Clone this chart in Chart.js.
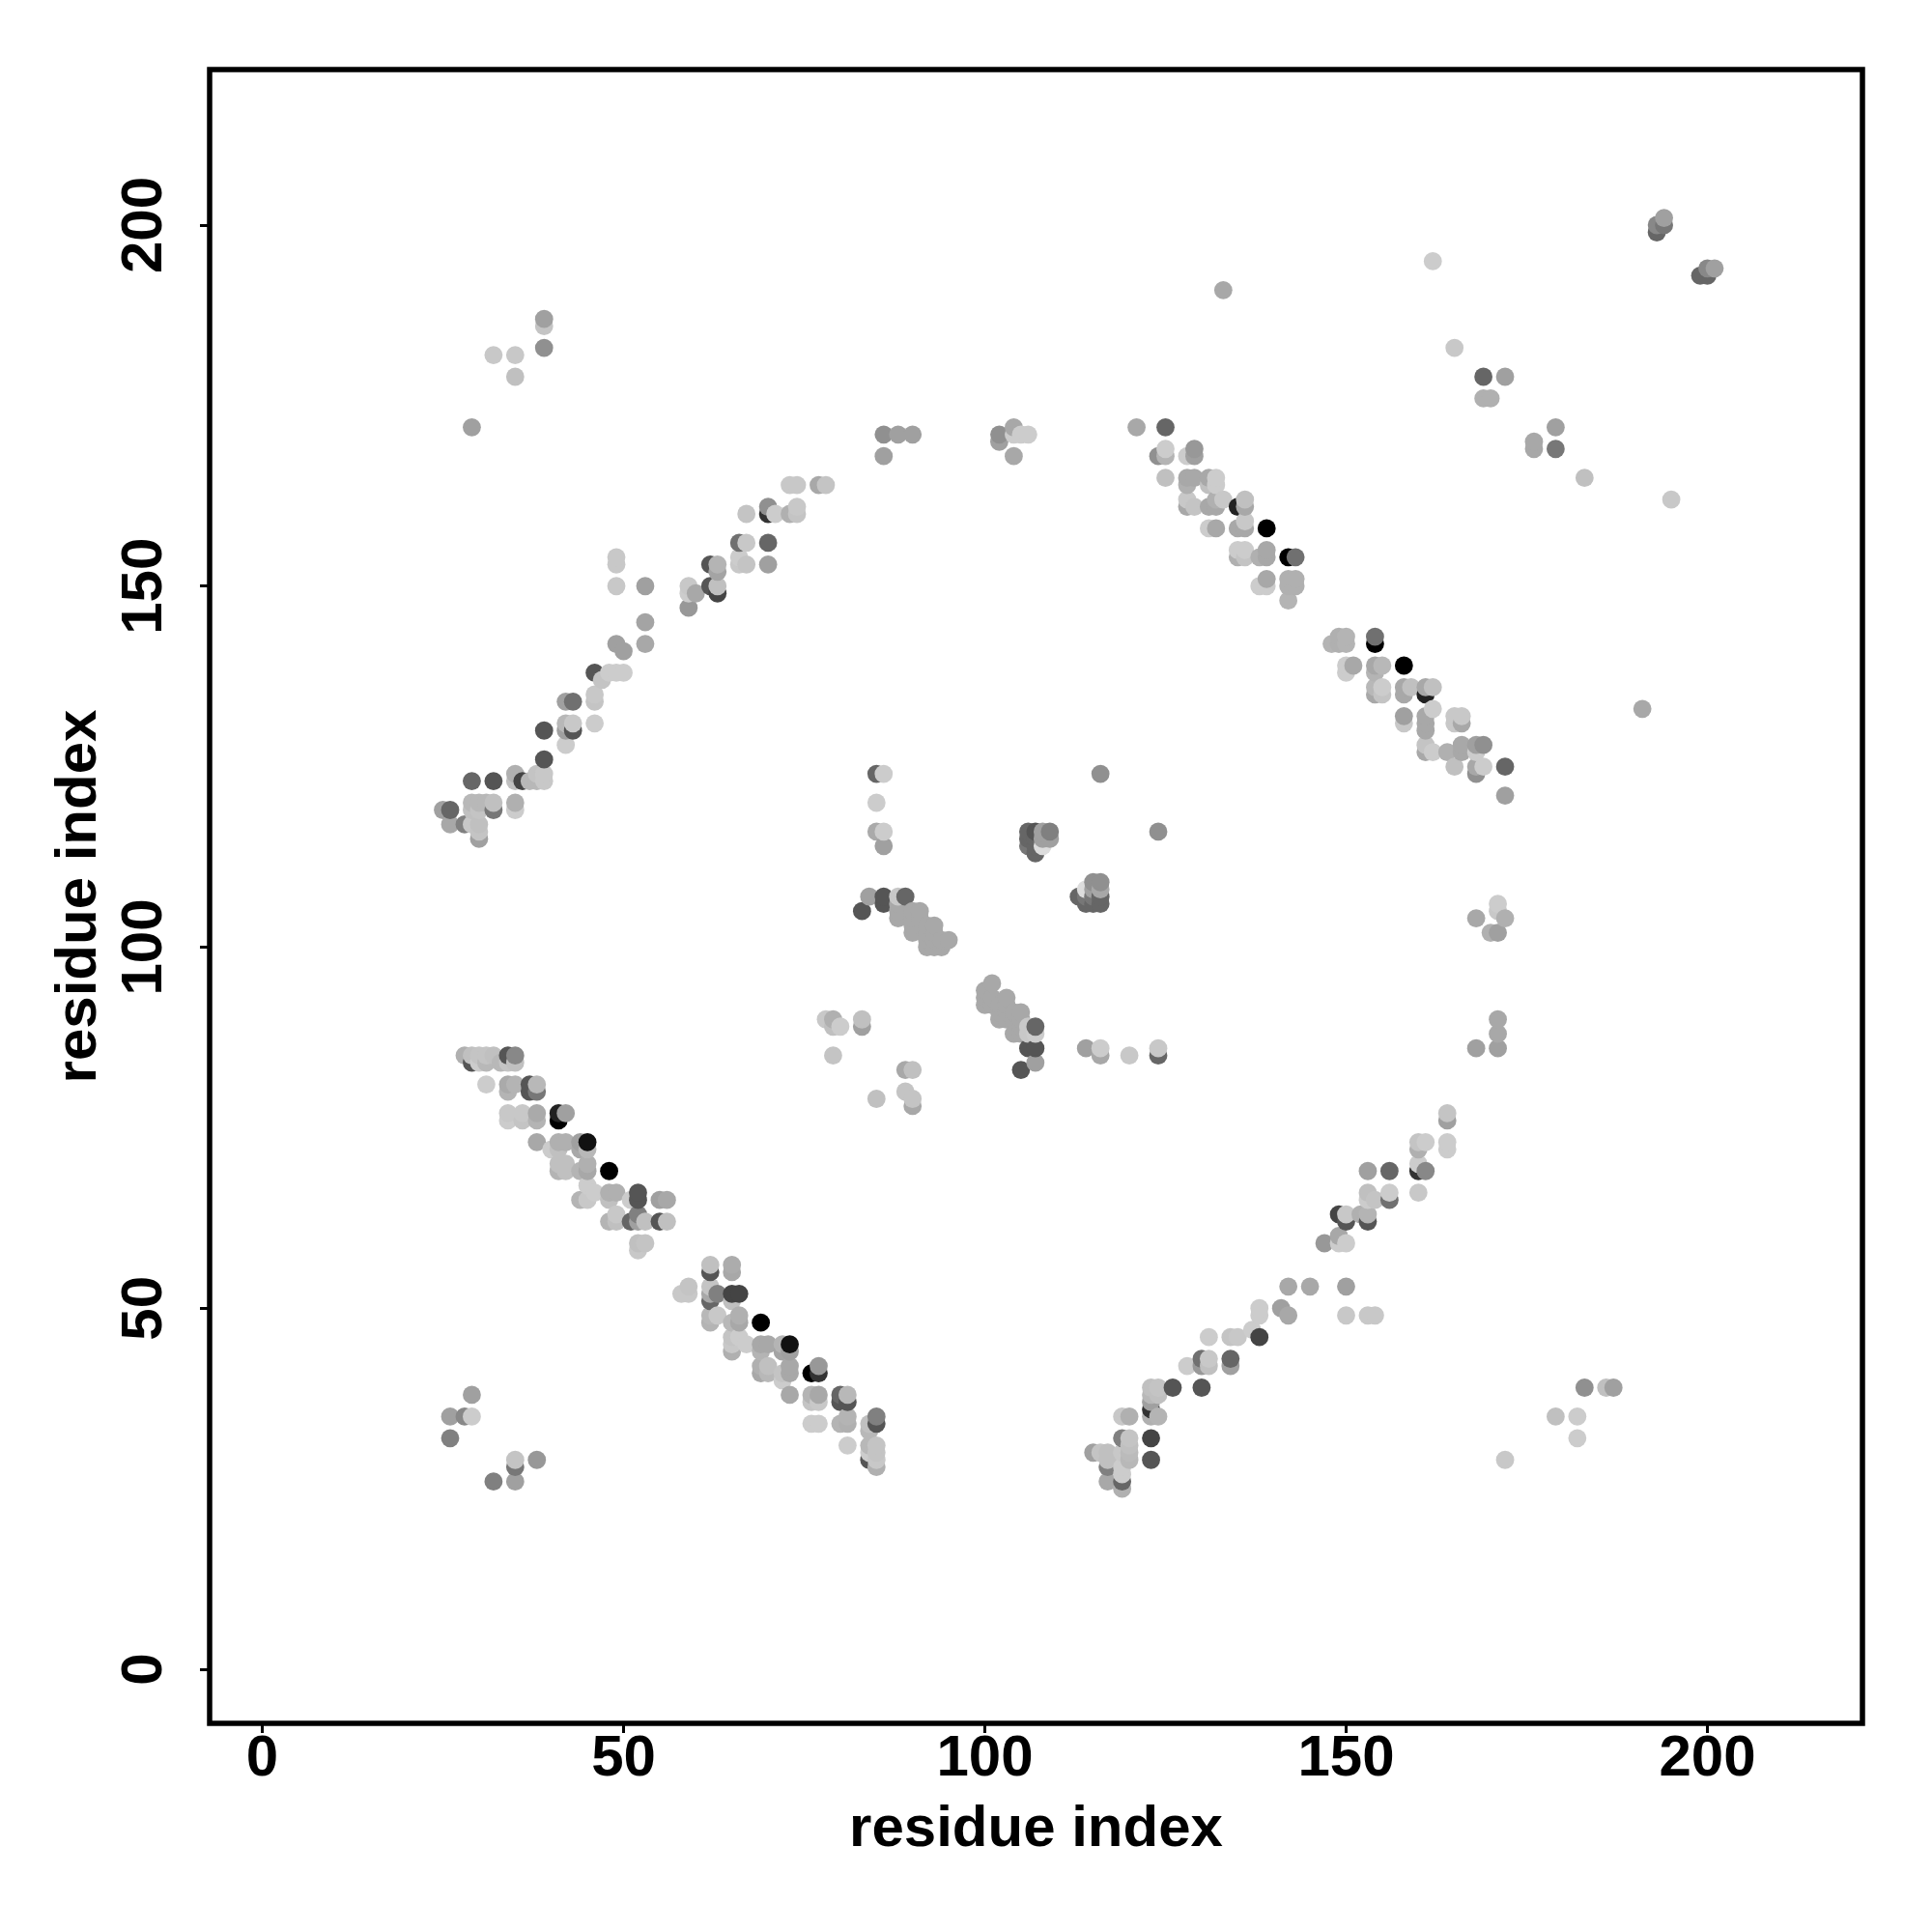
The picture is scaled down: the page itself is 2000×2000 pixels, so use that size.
<!DOCTYPE html>
<html>
<head>
<meta charset="utf-8">
<style>
  html, body { margin: 0; padding: 0; background: #fff; }
  #wrap { width: 2000px; height: 2000px; }
</style>
<script src="https://cdn.jsdelivr.net/npm/chart.js@4"></script>
</head>
<body>
<div id="wrap"><canvas id="contactChart" width="2000" height="2000"></canvas></div>
<script>
const tickLabels = [0, 50, 100, 150, 200];
const axisName = "residue index";

// one row per residue on the x axis
const residueX = [25, 26, 28, 29, 30, 31, 32, 33, 34, 35, 36, 37, 38, 39, 40, 41, 42, 43, 44, 45, 46, 47, 48, 49, 50, 51, 52, 53, 55, 56,
    58, 59, 60, 62, 63, 65, 66, 67, 69, 70, 71, 72, 73, 74, 76, 77, 78, 79, 80, 81, 83, 84, 85, 86, 88, 89, 90, 91, 92, 93, 94, 95,
    100, 101, 102, 103, 104, 105, 106, 107, 108, 109, 113, 114, 115, 116, 117, 119, 120, 121, 123, 124, 125, 126, 128, 129, 130, 131, 132, 133, 134, 135, 136,
    137, 138, 139, 141, 142, 143, 145, 147, 148, 149, 150, 151, 152, 153, 154, 155, 156, 158, 159, 160, 161, 162, 164, 165, 166, 168, 169, 170, 171, 172,
    176, 179, 182, 183, 186, 187, 191, 193, 194, 195, 199, 200, 201];

const partnerY = [
    [119],
    [119, 117, 35, 32],
    [117, 85, 35],
    [172, 123, 120, 119, 117, 85, 84, 38, 35],
    [120, 119, 117, 116, 115, 85, 84],
    [120, 85, 84, 81],
    [182, 123, 120, 119, 85, 26],
    [84],
    [85, 84, 81, 80, 77, 76],
    [182, 179, 124, 123, 120, 119, 85, 84, 81, 29, 28, 26],
    [123, 77, 76],
    [123, 81, 80],
    [124, 123, 81, 80, 77, 76, 73, 29],
    [187, 186, 183, 130, 126, 124, 123],
    [72],
    [77, 76, 73, 72, 70, 69],
    [134, 131, 130, 128, 77, 73, 70, 69],
    [134, 131, 130],
    [73, 72, 69, 65],
    [73, 72, 70, 69, 67, 65],
    [138, 135, 134, 131, 66],
    [137],
    [138, 69, 66, 65, 62],
    [154, 153, 150, 142, 138, 66, 63, 62],
    [141, 138],
    [65, 62],
    [66, 65, 63, 62, 59, 58],
    [150, 145, 142, 62, 59],
    [65, 62],
    [65, 62],
    [52],
    [150, 149, 147, 53, 52],
    [149],
    [153, 150, 56, 55, 53, 52, 51, 49, 48],
    [153, 152, 150, 149, 52, 49],
    [56, 55, 52, 51, 48, 46, 45, 44],
    [156, 154, 153, 52, 49, 48, 46],
    [160, 156, 153, 45],
    [48, 45, 44, 42, 41],
    [161, 160, 156, 153, 45, 42, 41],
    [160],
    [45, 44, 41, 40],
    [164, 160, 45, 44, 42, 41, 38],
    [164, 161, 160],
    [41, 38, 37, 34],
    [164, 42, 41, 38, 37, 34],
    [164, 90],
    [90, 89, 85],
    [89, 38, 37, 34],
    [38, 37, 35, 34, 31],
    [105, 90, 89],
    [107, 34, 33, 31, 30, 29],
    [124, 120, 116, 79, 35, 34, 31, 30, 29, 28],
    [171, 168, 124, 116, 114, 107, 106],
    [171, 107, 106, 105, 104],
    [107, 83, 80],
    [171, 105, 104, 103, 102, 83, 79, 78],
    [105, 104],
    [103, 102, 101, 100],
    [103, 102, 101, 100],
    [101, 100],
    [101],
    [94, 93, 92],
    [95, 93, 92],
    [171, 170, 92, 91, 90],
    [93, 92, 91, 90],
    [172, 171, 168, 91, 90, 88],
    [171, 91, 90, 89, 88, 83],
    [171, 116, 115, 114, 89, 88, 86],
    [116, 115, 114, 113, 89, 88, 86, 84],
    [116, 115, 114],
    [116, 115],
    [107],
    [108, 107, 106, 86],
    [109, 108, 107, 106, 30],
    [124, 109, 108, 107, 106, 86, 85, 30],
    [30, 29, 28, 26],
    [35, 32, 30, 28, 27, 26, 25],
    [85, 35, 32, 31, 30, 29],
    [172],
    [39, 38, 37, 36, 35, 32, 29],
    [168, 116, 86, 85, 39, 38, 35],
    [172, 169, 168, 165],
    [39],
    [168, 165, 164, 162, 161, 42],
    [169, 168, 165, 161],
    [43, 42, 39],
    [165, 164, 161, 158, 46, 43, 42],
    [165, 164, 162, 161, 158],
    [191, 162],
    [46, 43, 42],
    [161, 158, 155, 154, 46],
    [162, 161, 159, 158, 155, 154],
    [47],
    [154, 150, 50, 49, 46],
    [158, 155, 154, 151, 150],
    [50],
    [154, 151, 150, 148, 53, 49],
    [154, 151, 150],
    [53],
    [59],
    [142],
    [143, 142, 63, 60, 59],
    [143, 142, 139, 138, 63, 62, 59, 53, 49],
    [139],
    [63],
    [69, 66, 65, 63, 62, 49],
    [143, 142, 139, 138, 136, 135, 65, 49],
    [139, 136, 135],
    [69, 66, 65],
    [139, 136, 135, 132, 131],
    [136],
    [73, 72, 70, 69, 66],
    [136, 135, 132, 131, 130, 128, 127, 73, 69],
    [195, 136, 133, 127],
    [127, 77, 76, 73, 72],
    [183, 132, 131, 125],
    [132, 131, 128, 127],
    [128, 127, 125, 124, 104, 86],
    [179, 176, 128, 125],
    [176, 102],
    [106, 105, 102, 90, 88, 86],
    [179, 125, 121, 104, 29],
    [170, 169],
    [172, 169, 35],
    [35, 32],
    [165, 39],
    [39],
    [39],
    [133],
    [200, 199],
    [201, 200],
    [162],
    [193],
    [194, 193],
    [194]
];

// grey level of each contact, same rows as partnerY
const shade = [
    [0xa0],
    [0x66, 0xa8, 0xa0, 0x80],
    [0x80, 0xb0, 0x88],
    [0xa0, 0x66, 0xb8, 0xc0, 0xc8, 0xc0, 0x55, 0xa0, 0xcc],
    [0xb8, 0xc4, 0xc0, 0xc4, 0xa0, 0xc4, 0xcc],
    [0xb8, 0xc4, 0xb8, 0xcc],
    [0xc8, 0x55, 0xc0, 0x77, 0xc0, 0x80],
    [0xb8],
    [0x55, 0xc4, 0xaa, 0xb4, 0xc8, 0xcc],
    [0xc8, 0xc0, 0xb0, 0xc0, 0xb0, 0xcc, 0x88, 0xc0, 0xb4, 0xc4, 0x77, 0xa0],
    [0x44, 0xc8, 0xc4],
    [0xb8, 0x55, 0x55],
    [0xc4, 0xb8, 0xb8, 0x77, 0xaa, 0xb4, 0xa8, 0x98],
    [0xa0, 0xc4, 0x90, 0x55, 0x55, 0xc8, 0xc8],
    [0xcc],
    [0x22, 0x00, 0xb0, 0xc0, 0xc0, 0xb4],
    [0xa0, 0xb8, 0xa0, 0xcc, 0xa0, 0xb0, 0xc0, 0xc0],
    [0x70, 0xc8, 0x55],
    [0xa0, 0xa8, 0xb4, 0xb4],
    [0x11, 0xb8, 0xb0, 0xa8, 0xcc, 0xc8],
    [0x55, 0xc8, 0xc4, 0xcc, 0xcc],
    [0xc4],
    [0xcc, 0x00, 0xb0, 0xc0, 0xb4],
    [0xc8, 0xc8, 0xc8, 0xa0, 0xcc, 0xb0, 0xc8, 0xc0],
    [0xa0, 0xcc],
    [0xcc, 0x66],
    [0x55, 0x55, 0x80, 0xa0, 0xc0, 0xc8],
    [0xa0, 0xa4, 0xa8, 0xc0, 0xc4],
    [0xa0, 0x55],
    [0xa8, 0xc0],
    [0xc8],
    [0xc8, 0xcc, 0x98, 0xc4, 0xc8],
    [0xa8],
    [0x55, 0x55, 0xc0, 0x55, 0xc4, 0xa8, 0x66, 0xb8, 0xb4],
    [0xb4, 0xa4, 0xc0, 0x44, 0x80, 0xc8],
    [0xac, 0xa8, 0x44, 0xc0, 0xb8, 0xc4, 0xc8, 0xb0],
    [0x70, 0xcc, 0xc8, 0x44, 0xb0, 0xa8, 0xcc],
    [0xc4, 0xc8, 0xc4, 0xcc],
    [0x00, 0xa8, 0xb4, 0xb0, 0xa8],
    [0x90, 0x33, 0x66, 0xa0, 0xa8, 0xc0, 0xb8],
    [0xcc],
    [0xb4, 0xa4, 0xc4, 0xcc],
    [0xc8, 0xb0, 0x11, 0xa0, 0xa8, 0xa8, 0xa8],
    [0xc8, 0xc8, 0xc4],
    [0x00, 0xb4, 0xc4, 0xcc],
    [0xa8, 0x98, 0x33, 0xa8, 0xc8, 0xcc],
    [0xc4, 0xc8],
    [0xb0, 0xc0, 0xc4],
    [0xcc, 0x66, 0x55, 0xb4],
    [0xb8, 0x55, 0xb4, 0xb0, 0xcc],
    [0x55, 0xc0, 0xa0],
    [0xa0, 0xc0, 0xb8, 0xb8, 0xcc, 0x55],
    [0x66, 0xcc, 0xaa, 0xc0, 0x80, 0x55, 0xc4, 0xc4, 0xc8, 0xb0],
    [0x90, 0xa0, 0xcc, 0xcc, 0xa0, 0x55, 0x55],
    [0xa0, 0xc8, 0xa8, 0xa8, 0xa8],
    [0x66, 0xa8, 0xc4],
    [0xa0, 0xa8, 0xa8, 0xa8, 0xa8, 0xc0, 0xc4, 0xa8],
    [0xa8, 0xa8],
    [0xa8, 0xa8, 0xa8, 0xa8],
    [0xa8, 0xa8, 0xa8, 0xa8],
    [0xa8, 0xa8],
    [0xa8],
    [0xa8, 0xa8, 0xa8],
    [0xa8, 0xa8, 0xa8],
    [0x90, 0xa0, 0xa8, 0xa8, 0xa8],
    [0xa8, 0xa8, 0xa8, 0xa8],
    [0xa8, 0xcc, 0xa8, 0xa8, 0xa8, 0xa8],
    [0xcc, 0xa8, 0xa8, 0xa8, 0xa8, 0x55],
    [0xcc, 0x66, 0x66, 0x77, 0xc8, 0xc8, 0x55],
    [0x55, 0x66, 0x66, 0x66, 0x66, 0xcc, 0x55, 0xa0],
    [0xa0, 0xa0, 0xdd],
    [0x80, 0xa0],
    [0x66],
    [0xdd, 0x77, 0x66, 0xa0],
    [0x90, 0xa0, 0x77, 0x66, 0xa0],
    [0x90, 0x90, 0xa8, 0x66, 0x66, 0xcc, 0xa8, 0xc4],
    [0xc0, 0xc0, 0x80, 0xa8],
    [0xc8, 0x80, 0xc8, 0xcc, 0xcc, 0x66, 0xb0],
    [0xc8, 0xb0, 0xc4, 0xc0, 0xbb, 0xb8],
    [0xa8],
    [0xc0, 0xb8, 0xa0, 0x33, 0xb0, 0x44, 0x55],
    [0x90, 0x90, 0xc8, 0x66, 0xc4, 0xc0, 0xb4],
    [0x66, 0xcc, 0xb4, 0xc0],
    [0x55],
    [0xcc, 0xa8, 0xb0, 0xc8, 0xa8, 0xcc],
    [0x98, 0xa0, 0xa8, 0xc4],
    [0x70, 0x98, 0x55],
    [0xa8, 0xc0, 0xa8, 0xcc, 0xcc, 0xc8, 0xc0],
    [0xcc, 0xcc, 0xb0, 0xa8, 0xa8],
    [0xa8, 0xc8],
    [0xc4, 0x66, 0xa0],
    [0x22, 0xa8, 0xcc, 0xb0, 0xc8],
    [0xc0, 0xa8, 0xc8, 0xa8, 0xcc, 0xc4],
    [0xcc],
    [0xb0, 0xcc, 0xcc, 0xcc, 0x44],
    [0x00, 0xa8, 0xa8, 0xa8, 0xcc],
    [0xa0],
    [0x00, 0xb0, 0xb0, 0xb4, 0xa8, 0xa8],
    [0x70, 0xb0, 0xb0],
    [0xa8],
    [0x98],
    [0xb4],
    [0xb0, 0xb0, 0x44, 0xa8, 0xcc],
    [0xb4, 0xb4, 0xcc, 0xcc, 0xc8, 0x55, 0xcc, 0xa0, 0xc8],
    [0xa8],
    [0xb0],
    [0xa0, 0xc0, 0xcc, 0xb4, 0x55, 0xc8],
    [0x70, 0x00, 0xa8, 0xb4, 0xb8, 0xa8, 0xc4, 0xc8],
    [0xb8, 0xcc, 0xc4],
    [0x66, 0xcc, 0x70],
    [0x00, 0xa8, 0xa8, 0xa0, 0xc8],
    [0xc0],
    [0xc4, 0xb0, 0xcc, 0x33, 0xc8],
    [0xa8, 0x22, 0xa8, 0xa8, 0xa8, 0xc4, 0xa8, 0xcc, 0x88],
    [0xcc, 0xc0, 0xcc, 0xcc],
    [0xb0, 0xc4, 0xa0, 0xcc, 0xcc],
    [0xc8, 0xc8, 0xc8, 0xc0],
    [0xc8, 0xa8, 0xa8, 0xa8],
    [0xa0, 0xcc, 0xa8, 0x90, 0xa8, 0xa0],
    [0x66, 0xb0, 0x90, 0xcc],
    [0xb0, 0xb0],
    [0xcc, 0xc8, 0xa0, 0xa8, 0xa8, 0xa0],
    [0xa0, 0x66, 0xa0, 0xb0, 0xc8],
    [0xa8, 0xa8],
    [0xa0, 0x77, 0xc0],
    [0xcc, 0xcc],
    [0xc0, 0x90],
    [0xc0],
    [0xa0],
    [0xa8],
    [0x88, 0x66],
    [0xa0, 0x77],
    [0xc8],
    [0x66],
    [0x88, 0x66],
    [0xa0]
];

// R plots in index order, so later residues sit on top
var points = [];
for (var i = 0; i < residueX.length; i++) {
    for (var j = 0; j < partnerY[i].length; j++) {
        points.push({ x: residueX[i], y: partnerY[i][j], g: shade[i][j] });
    }
}
points.sort(function (a, b) { return a.x - b.x || a.y - b.y; });

const boldFont = '"Liberation Sans", Arial, sans-serif';

// box round the plot and the upright y tick labels
const framePlugin = {
    id: "frame",
    afterDraw: function (chart) {
        var ctx = chart.ctx;
        var area = chart.chartArea;
        var yScale = chart.scales.y;
        ctx.save();
        ctx.strokeStyle = "#000";
        ctx.lineWidth = 5.5;
        ctx.strokeRect(area.left, area.top, area.right - area.left, area.bottom - area.top);
        ctx.fillStyle = "#000";
        ctx.font = "bold 60px " + boldFont;
        ctx.textAlign = "center";
        ctx.textBaseline = "middle";
        tickLabels.forEach(function (value) {
            ctx.save();
            ctx.translate(150, yScale.getPixelForValue(value));
            ctx.rotate(-Math.PI / 2);
            ctx.fillText(String(value), 0, 0);
            ctx.restore();
        });
        ctx.restore();
    }
};

new Chart("contactChart", {
    type: "scatter",
    data: {
        datasets: [{
            data: points,
            pointRadius: 9.4,
            pointHoverRadius: 9.4,
            pointBorderWidth: 0,
            pointBackgroundColor: points.map(function (p) {
                return "rgb(" + p.g + "," + p.g + "," + p.g + ")";
            })
        }]
    },
    plugins: [framePlugin],
    options: {
        responsive: false,
        animation: false,
        layout: { padding: { top: 72, right: 72, left: 0, bottom: 0 } },
        plugins: { legend: { display: false }, tooltip: { enabled: false } },
        scales: {
            x: {
                type: "linear",
                min: -7.29,
                max: 221.46,
                afterFit: function (scale) { scale.height = 216; },
                border: { display: false },
                grid: { drawOnChartArea: false, drawTicks: true, tickLength: 10, color: "#000", lineWidth: 3 },
                ticks: {
                    stepSize: 50,
                    includeBounds: false,
                    color: "#000",
                    padding: -9,
                    maxRotation: 0,
                    font: { family: boldFont, size: 60, weight: "bold" }
                },
                title: {
                    display: true,
                    text: axisName,
                    color: "#000",
                    padding: { top: 0, bottom: 70 },
                    font: { family: boldFont, size: 60, weight: "bold" }
                }
            },
            y: {
                type: "linear",
                min: -7.49,
                max: 221.54,
                afterFit: function (scale) { scale.width = 217; },
                border: { display: false },
                grid: { drawOnChartArea: false, drawTicks: true, tickLength: 10, color: "#000", lineWidth: 3 },
                ticks: {
                    stepSize: 50,
                    includeBounds: false,
                    display: false
                },
                title: {
                    display: true,
                    text: axisName,
                    color: "#000",
                    padding: { top: 46, bottom: 0 },
                    font: { family: boldFont, size: 60, weight: "bold" }
                }
            }
        }
    }
});
</script>
</body>
</html>
